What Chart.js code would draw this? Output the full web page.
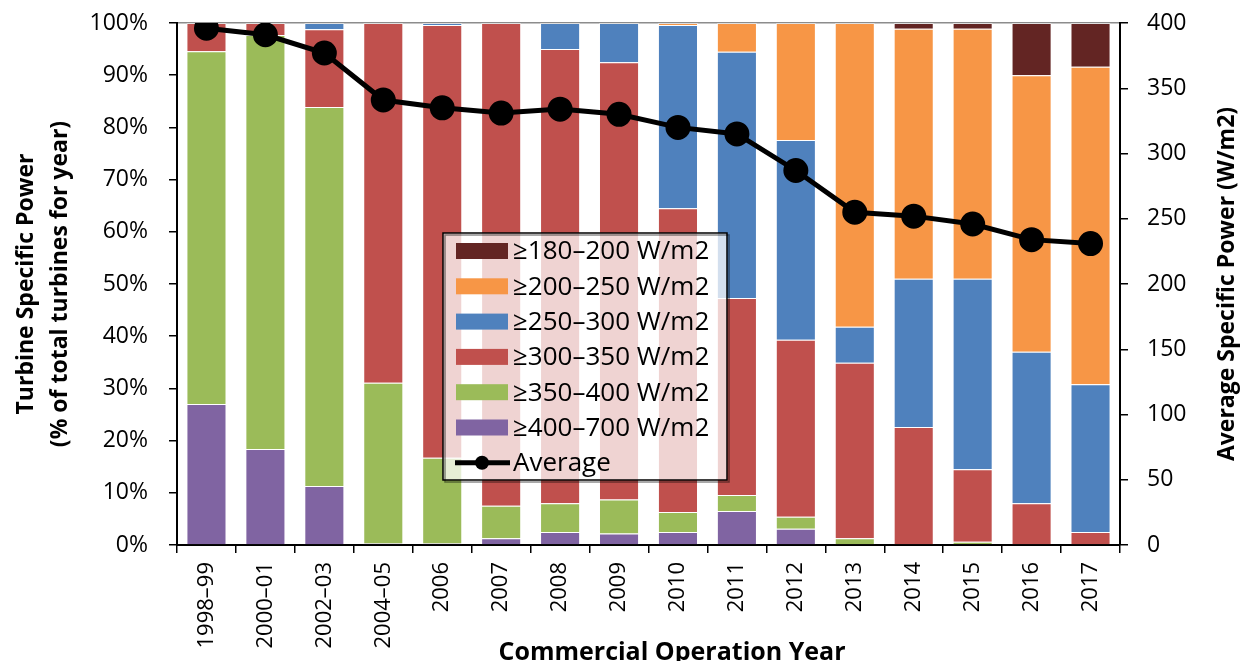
<!DOCTYPE html>
<html>
<head>
<meta charset="utf-8">
<script src="https://cdn.jsdelivr.net/npm/chart.js@4.4.1/dist/chart.umd.min.js"></script>
<style>
  html, body { margin: 0; padding: 0; background: #fff; }
  #wrap { width: 1241px; height: 661px; }
</style>
</head>
<body>
<div id="wrap"><canvas id="chart"></canvas></div>
<script>
const years = ['1998–99', '2000–01', '2002–03', '2004–05', '2006', '2007', '2008', '2009',
  '2010', '2011', '2012', '2013', '2014', '2015', '2016', '2017'];

// shares in % of turbines, bottom of the stack first
const sp400to700 = [27.0, 18.4, 11.3, 0.3, 0.3, 1.3, 2.5, 2.2, 2.5, 6.5, 3.1, 0, 0, 0.2, 0, 0];
const sp350to400 = [67.6, 79.3, 72.6, 30.8, 16.4, 6.2, 5.5, 6.5, 3.8, 3.1, 2.3, 1.3, 0, 0.4, 0, 0];
const sp300to350 = [5.4, 2.3, 14.9, 68.9, 82.9, 92.5, 87.0, 83.8, 58.2, 37.7, 33.9, 33.6, 22.6, 13.9, 8.0, 2.5];
const sp250to300 = [0, 0, 1.2, 0, 0.4, 0, 5.0, 7.5, 35.1, 47.2, 38.3, 6.9, 28.4, 36.5, 29.0, 28.3];
const sp200to250 = [0, 0, 0, 0, 0, 0, 0, 0, 0.4, 5.5, 22.4, 58.2, 47.9, 47.9, 53.0, 60.8];
const sp180to200 = [0, 0, 0, 0, 0, 0, 0, 0, 0, 0, 0, 0, 1.1, 1.1, 10.0, 8.4];

// average specific power, W/m2 (right axis)
const avgPower = [396, 391, 377, 341, 335, 331, 334, 330, 320, 315, 287, 255, 252, 246, 234, 231];

const leftTitle = ['Turbine Specific Power', '(% of total turbines for year)'];
const rightTitle = 'Average Specific Power (W/m2)';
const xTitle = 'Commercial Operation Year';

const FONT = '"Open Sans", "DejaVu Sans", sans-serif';

function barSet(label, data, color) {
  return {
    type: 'bar', label, data,
    backgroundColor: color,
    borderColor: 'rgba(255,255,255,0.45)',
    borderWidth: 1,
    yAxisID: 'y', order: 1,
    categoryPercentage: 1, barPercentage: 0.68
  };
}

// keep the plot frame where the original has it: no extra room for tick label overhang
function fixWidth(w) {
  return s => { s.width = w; s.paddingTop = 0; s.paddingBottom = 0; };
}

// legend box sitting inside the plot, like the Excel original
const boxLegend = {
  id: 'boxLegend',
  afterDraw(chart) {
    const ctx = chart.ctx;
    const x = 443, y = 233, w = 284, h = 247;
    const sets = chart.data.datasets;
    const bars = sets.filter(d => d.type === 'bar').reverse();
    const line = sets.find(d => d.type === 'line');
    ctx.save();
    ctx.fillStyle = 'rgba(255,255,255,0.75)';
    ctx.fillRect(x, y, w, h);
    ctx.shadowColor = 'rgba(0,0,0,0.45)';
    ctx.shadowOffsetX = 2;
    ctx.shadowOffsetY = 2;
    ctx.strokeStyle = '#000';
    ctx.lineWidth = 1.5;
    ctx.strokeRect(x, y, w, h);
    ctx.shadowColor = 'transparent';

    ctx.font = '26px ' + FONT;
    ctx.textBaseline = 'middle';
    const rowH = 35.3;
    bars.forEach((d, i) => {
      const cy = y + 18 + i * rowH;
      ctx.fillStyle = d.backgroundColor;
      ctx.fillRect(x + 13, cy - 8, 52, 16);
      ctx.fillStyle = '#000';
      ctx.fillText(d.label, x + 70, cy + 1);
    });
    const cy = y + 18 + bars.length * rowH;
    ctx.strokeStyle = line.borderColor;
    ctx.lineWidth = 5;
    ctx.beginPath();
    ctx.moveTo(x + 12, cy);
    ctx.lineTo(x + 67, cy);
    ctx.stroke();
    ctx.fillStyle = line.pointBackgroundColor;
    ctx.beginPath();
    ctx.arc(x + 39, cy, 7, 0, Math.PI * 2);
    ctx.fill();
    ctx.fillStyle = '#000';
    ctx.fillText(line.label, x + 70, cy + 1);
    ctx.restore();
  }
};

// axis titles (the right one reads bottom-to-top, which Chart.js won't do)
const axisTitles = {
  id: 'axisTitles',
  afterDraw(chart) {
    const { ctx, chartArea } = chart;
    const midY = (chartArea.top + chartArea.bottom) / 2;
    ctx.save();
    ctx.fillStyle = '#000';
    ctx.textAlign = 'center';
    ctx.textBaseline = 'middle';
    ctx.font = 'bold 23px ' + FONT;
    [26, 60].forEach((tx, i) => {
      ctx.save();
      ctx.translate(tx, midY);
      ctx.rotate(-Math.PI / 2);
      ctx.fillText(leftTitle[i], 0, 0);
      ctx.restore();
    });
    ctx.save();
    ctx.translate(1227, midY);
    ctx.rotate(-Math.PI / 2);
    ctx.fillText(rightTitle, 0, 0);
    ctx.restore();
    ctx.font = 'bold 25px ' + FONT;
    ctx.fillText(xTitle, 672, 653);
    ctx.restore();
  }
};

new Chart(document.getElementById('chart'), {
  type: 'bar',
  data: {
    labels: years,
    datasets: [
      barSet('≥400–700 W/m2', sp400to700, '#8064A2'),
      barSet('≥350–400 W/m2', sp350to400, '#9BBB59'),
      barSet('≥300–350 W/m2', sp300to350, '#C0504D'),
      barSet('≥250–300 W/m2', sp250to300, '#4F81BD'),
      barSet('≥200–250 W/m2', sp200to250, '#F79646'),
      barSet('≥180–200 W/m2', sp180to200, '#632523'),
      {
        type: 'line', label: 'Average', data: avgPower,
        yAxisID: 'y2', order: 0,
        borderColor: '#000', borderWidth: 5,
        pointBackgroundColor: '#000', pointBorderColor: '#000',
        pointRadius: 10, pointHoverRadius: 10,
        tension: 0
      }
    ]
  },
  options: {
    responsive: true,
    maintainAspectRatio: false,
    animation: false,
    layout: { autoPadding: false, padding: { top: 23, left: 0, right: 0, bottom: 0 } },
    plugins: {
      legend: { display: false },
      tooltip: { enabled: false }
    },
    scales: {
      x: {
        stacked: true,
        afterFit: s => { s.height = 116; },
        border: { color: '#000', width: 2 },
        grid: { drawOnChartArea: false, tickLength: 8, color: '#000', lineWidth: 1.5 },
        ticks: {
          autoSkip: false, minRotation: 90, maxRotation: 90, padding: 9,
          color: '#000', font: { family: FONT, size: 22 }
        }
      },
      y: {
        stacked: true, position: 'left', min: 0, max: 100,
        afterFit: fixWidth(177),
        border: { color: '#000', width: 2 },
        grid: {
          tickLength: 8, tickColor: '#000', lineWidth: 1.5,
          color: c => (c.tick && c.tick.value === 100) ? '#8c8c8c' : 'rgba(0,0,0,0)'
        },
        ticks: {
          stepSize: 10, padding: 21, color: '#000',
          font: { family: FONT, size: 23 },
          callback: v => v + '%'
        }
      },
      y2: {
        position: 'right', min: 0, max: 400,
        afterFit: fixWidth(121),
        border: { color: '#000', width: 2 },
        grid: { drawOnChartArea: false, tickLength: 8, color: '#000', lineWidth: 1.5 },
        ticks: {
          stepSize: 50, padding: 19, color: '#000',
          font: { family: FONT, size: 23 }
        }
      }
    }
  },
  plugins: [boxLegend, axisTitles]
});
</script>
</body>
</html>
